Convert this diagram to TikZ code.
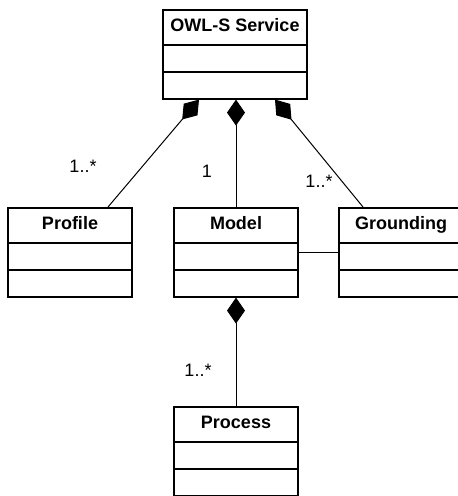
\documentclass[tikz,border=0pt]{standalone}
\usepackage{fontspec}
\setmainfont{Liberation Sans}
\usetikzlibrary{shapes.multipart}
\usetikzlibrary{arrows.meta}

\tikzset{
  umlclass/.style={rectangle split, rectangle split parts=3, draw, line width=0.9pt,
    inner xsep=2pt, inner ysep=0pt, minimum width=62pt, anchor=north,
    font=\fontsize{9}{11}\selectfont\bfseries,
    rectangle split empty part height=12.6pt, rectangle split empty part depth=0pt},
  composite/.style={{Diamond[length=13pt,width=9pt]}-, line width=0.5pt},
  mult/.style={anchor=base, font=\fontsize{9}{11}\selectfont}
}
\newcommand{\umlhead}[1]{\rule[-6pt]{0pt}{16.5pt}#1}

\begin{document}
\begin{tikzpicture}[x=0.5pt,y=-0.5pt]
        \useasboundingbox (0,0) rectangle (458,496);
        \node[umlclass,minimum width=72pt] (service) at (235,9) {\umlhead{OWL-S Service}\nodepart{two}\nodepart{three}};
        \node[umlclass] (profile) at (70,207) {\umlhead{Profile}\nodepart{two}\nodepart{three}};
        \node[umlclass] (model) at (236,207) {\umlhead{Model}\nodepart{two}\nodepart{three}};
        \node[umlclass] (grounding) at (401,207) {\umlhead{Grounding}\nodepart{two}\nodepart{three}};
        \node[umlclass] (process) at (236,406) {\umlhead{Process}\nodepart{two}\nodepart{three}};
        \draw[composite] ([xshift=-18pt]service.south) -- ([xshift=19pt]profile.north);
        \draw[composite] (service.south -| model.north) -- (model.north);
        \draw[composite] ([xshift=20pt]service.south) -- ([xshift=-19pt]grounding.north);
        \draw[composite] (model.south) -- (process.north);
        \draw[line width=0.5pt] ([yshift=-22.5pt]model.north east) -- ([yshift=-22.5pt]grounding.north west);
        \node[mult] (mprofile) at (83,173) {1..*};
        \node[mult] (mmodel) at (207,178) {1};
        \node[mult] (mgrounding) at (319,188) {1..*};
        \node[mult] (mprocess) at (198,376) {1..*};
\end{tikzpicture}
\end{document}
